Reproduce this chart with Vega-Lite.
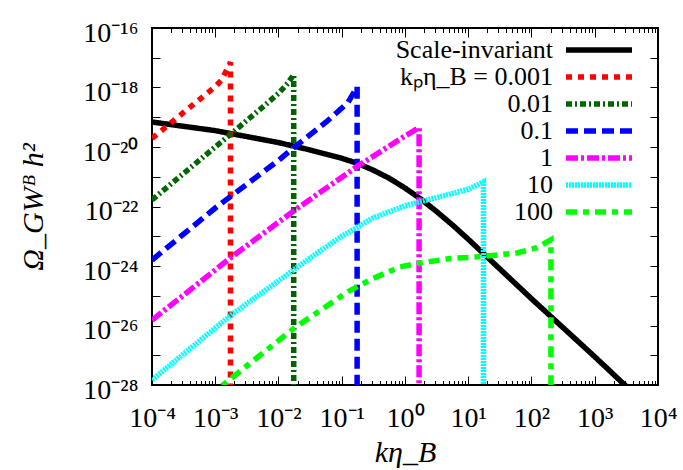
{
  "$schema": "https://vega.github.io/schema/vega-lite/v6.json",
  "width": 506,
  "height": 357,
  "autosize": {"type": "none"},
  "padding": {"left": 152, "top": 28, "right": 25, "bottom": 85},
  "background": "white",
  "config": {
    "view": {"stroke": "#000", "strokeWidth": 2},
    "font": "Liberation Serif",
    "axis": {"domain": false, "grid": false, "tickColor": "#000", "tickWidth": 1, "labelColor": "#000", "titleColor": "#000", "labelFont": "Liberation Serif", "titleFont": "Liberation Serif"}
  },
  "data": {
    "values": [
      {"series": "Scale-invariant", "x": 1e-4, "y": 6.92e-20},
      {"series": "Scale-invariant", "x": 1e-3, "y": 3.55e-20},
      {"series": "Scale-invariant", "x": 1e-2, "y": 1.41e-20},
      {"series": "Scale-invariant", "x": 3.162e-2, "y": 7.94e-21},
      {"series": "Scale-invariant", "x": 0.1, "y": 4.17e-21},
      {"series": "Scale-invariant", "x": 0.1778, "y": 2.82e-21},
      {"series": "Scale-invariant", "x": 0.3162, "y": 1.66e-21},
      {"series": "Scale-invariant", "x": 0.5623, "y": 8.91e-22},
      {"series": "Scale-invariant", "x": 1, "y": 4.17e-22},
      {"series": "Scale-invariant", "x": 1.778, "y": 1.78e-22},
      {"series": "Scale-invariant", "x": 3.162, "y": 6.76e-23},
      {"series": "Scale-invariant", "x": 5.623, "y": 2.40e-23},
      {"series": "Scale-invariant", "x": 10, "y": 7.94e-24},
      {"series": "Scale-invariant", "x": 17.78, "y": 2.51e-24},
      {"series": "Scale-invariant", "x": 31.62, "y": 7.94e-25},
      {"series": "Scale-invariant", "x": 100, "y": 7.94e-26},
      {"series": "Scale-invariant", "x": 1000, "y": 8.91e-28},
      {"series": "Scale-invariant", "x": 3981, "y": 5.62e-29},

      {"series": "kₚη_B = 0.001", "x": 1e-4, "y": 1.95e-20},
      {"series": "kₚη_B = 0.001", "x": 3.16e-4, "y": 1.45e-19},
      {"series": "kₚη_B = 0.001", "x": 1e-3, "y": 1.07e-18},
      {"series": "kₚη_B = 0.001", "x": 1.26e-3, "y": 1.78e-18},
      {"series": "kₚη_B = 0.001", "x": 1.48e-3, "y": 3.55e-18},
      {"series": "kₚη_B = 0.001", "x": 1.74e-3, "y": 7.08e-18},
      {"series": "kₚη_B = 0.001", "x": 1.74e-3, "y": 3e-29},

      {"series": "0.01", "x": 1e-4, "y": 1.66e-22},
      {"series": "0.01", "x": 1e-3, "y": 1.0e-20},
      {"series": "0.01", "x": 1.82e-3, "y": 2.88e-20},
      {"series": "0.01", "x": 5.75e-3, "y": 2.29e-19},
      {"series": "0.01", "x": 1e-2, "y": 6.31e-19},
      {"series": "0.01", "x": 1.41e-2, "y": 1.41e-18},
      {"series": "0.01", "x": 1.74e-2, "y": 2.7e-18},
      {"series": "0.01", "x": 1.74e-2, "y": 3e-29},

      {"series": "0.1", "x": 1e-4, "y": 1.58e-24},
      {"series": "0.1", "x": 1e-3, "y": 8.9e-23},
      {"series": "0.1", "x": 1.78e-3, "y": 2.24e-22},
      {"series": "0.1", "x": 1e-2, "y": 3.55e-21},
      {"series": "0.1", "x": 1.7e-2, "y": 9.12e-21},
      {"series": "0.1", "x": 5.75e-2, "y": 7.08e-20},
      {"series": "0.1", "x": 0.126, "y": 3.16e-19},
      {"series": "0.1", "x": 0.175, "y": 1.07e-18},
      {"series": "0.1", "x": 0.175, "y": 3e-29},

      {"series": "1", "x": 1e-4, "y": 1.51e-26},
      {"series": "1", "x": 1.78e-3, "y": 1.95e-24},
      {"series": "1", "x": 1.76e-2, "y": 7.24e-23},
      {"series": "1", "x": 0.174, "y": 2.19e-21},
      {"series": "1", "x": 1, "y": 2.34e-20},
      {"series": "1", "x": 1.67, "y": 4.47e-20},
      {"series": "1", "x": 1.67, "y": 3e-29},

      {"series": "10", "x": 1e-4, "y": 1.48e-28},
      {"series": "10", "x": 1.778e-3, "y": 2.24e-26},
      {"series": "10", "x": 1e-2, "y": 3.16e-25},
      {"series": "10", "x": 3.162e-2, "y": 1.86e-24},
      {"series": "10", "x": 0.1, "y": 1.0e-23},
      {"series": "10", "x": 0.3162, "y": 4.17e-23},
      {"series": "10", "x": 1, "y": 1.05e-22},
      {"series": "10", "x": 3.162, "y": 2.0e-22},
      {"series": "10", "x": 10, "y": 3.80e-22},
      {"series": "10", "x": 17.4, "y": 6.76e-22},
      {"series": "10", "x": 17.4, "y": 3e-29},

      {"series": "100", "x": 7.94e-4, "y": 4.17e-29},
      {"series": "100", "x": 1.778e-3, "y": 1.66e-28},
      {"series": "100", "x": 1.76e-2, "y": 8.13e-27},
      {"series": "100", "x": 0.126, "y": 1.38e-25},
      {"series": "100", "x": 0.3162, "y": 3.89e-25},
      {"series": "100", "x": 0.832, "y": 9.33e-25},
      {"series": "100", "x": 1.738, "y": 1.26e-24},
      {"series": "100", "x": 5.13, "y": 1.78e-24},
      {"series": "100", "x": 17.0, "y": 2.09e-24},
      {"series": "100", "x": 58.9, "y": 2.75e-24},
      {"series": "100", "x": 123, "y": 4.17e-24},
      {"series": "100", "x": 203, "y": 7.59e-24},
      {"series": "100", "x": 203, "y": 3e-29}
    ]
  },
  "layer": [
    {
      "mark": {"type": "line", "clip": true, "strokeWidth": 5.5, "strokeCap": "butt"},
      "encoding": {
        "x": {"field": "x", "type": "quantitative", "scale": {"type": "log", "domain": [1e-4, 1e4], "nice": false},
          "axis": {"orient": "bottom", "values": [1e-4, 1e-3, 1e-2, 1e-1, 1, 10, 100, 1000, 10000], "tickSize": -9, "labelPadding": 28, "labelFontSize": 28, "labelExpr": "'10' + ['⁻⁴','⁻³','⁻²','⁻¹','⁰','¹','²','³','⁴'][round(log(datum.value)/LN10)+4]", "labelFlush": false, "labelOverlap": false, "title": "kη_B", "titleFontSize": 30, "titleFontStyle": "italic", "titleFontWeight": "normal", "titlePadding": 5}},
        "y": {"field": "y", "type": "quantitative", "scale": {"type": "log", "domain": [1e-28, 1e-16], "nice": false},
          "axis": {"orient": "left", "values": [1e-28, 1e-27, 1e-26, 1e-25, 1e-24, 1e-23, 1e-22, 1e-21, 1e-20, 1e-19, 1e-18, 1e-17, 1e-16], "tickSize": -8, "labelPadding": 22, "labelFontSize": 28, "labelOffset": 5, "labelExpr": "round(log(datum.value)/LN10) % 2 == 0 ? '10' + ['⁻²⁸','⁻²⁷','⁻²⁶','⁻²⁵','⁻²⁴','⁻²³','⁻²²','⁻²¹','⁻²⁰','⁻¹⁹','⁻¹⁸','⁻¹⁷','⁻¹⁶'][round(log(datum.value)/LN10)+28] : ''", "labelFlush": false, "labelOverlap": false, "title": "Ω_GWᴮ h²", "titleFontSize": 30, "titleFontStyle": "italic", "titleFontWeight": "normal", "titlePadding": 34}},
        "color": {"field": "series", "type": "nominal", "title": null,
          "scale": {"domain": ["Scale-invariant", "kₚη_B = 0.001", "0.01", "0.1", "1", "10", "100"], "range": ["#000000", "#ff0000", "#006400", "#0000ff", "#ff00ff", "#00ffff", "#00ff00"]},
          "legend": {"orient": "none", "legendX": 433, "legendY": 8, "padding": 0, "symbolType": "M-3,0H3", "symbolSize": 484, "symbolStrokeWidth": 5.5, "labelAlign": "right", "labelOffset": -60, "labelFontSize": 26, "labelFont": "Liberation Serif", "labelColor": "#000", "rowPadding": -1.5, "labelLimit": 300}},
        "strokeDash": {"field": "series", "type": "nominal", "title": null,
          "scale": {"domain": ["Scale-invariant", "kₚη_B = 0.001", "0.01", "0.1", "1", "10", "100"], "range": [[1, 0], [6, 6], [6, 3, 2, 3], [12, 6], [12, 3, 3, 3], [2, 1], [11, 6, 6, 6]]},
          "legend": {"orient": "none", "legendX": 433, "legendY": 8, "padding": 0, "symbolType": "M-3,0H3", "symbolSize": 484, "symbolStrokeWidth": 5.5, "labelAlign": "right", "labelOffset": -60, "labelFontSize": 26, "labelFont": "Liberation Serif", "labelColor": "#000", "rowPadding": -1.5, "labelLimit": 300}},
        "order": {"value": null}
      }
    },
    {
      "mark": {"type": "point", "opacity": 0},
      "encoding": {
        "x": {"field": "x", "type": "quantitative", "axis": {"orient": "top", "values": [1e-4, 1e-3, 1e-2, 1e-1, 1, 10, 100, 1000, 10000], "tickSize": -9, "labels": false, "title": null}},
        "y": {"field": "y", "type": "quantitative", "axis": {"orient": "right", "values": [1e-28, 1e-27, 1e-26, 1e-25, 1e-24, 1e-23, 1e-22, 1e-21, 1e-20, 1e-19, 1e-18, 1e-17, 1e-16], "tickSize": -8, "labels": false, "title": null}}
      }
    },
    {
      "mark": {"type": "point", "opacity": 0},
      "encoding": {
        "x": {"field": "x", "type": "quantitative", "axis": {"orient": "bottom", "values": [2e-4,3e-4,4e-4,5e-4,6e-4,7e-4,8e-4,9e-4,2e-3,3e-3,4e-3,5e-3,6e-3,7e-3,8e-3,9e-3,2e-2,3e-2,4e-2,5e-2,6e-2,7e-2,8e-2,9e-2,0.2,0.3,0.4,0.5,0.6,0.7,0.8,0.9,2,3,4,5,6,7,8,9,20,30,40,50,60,70,80,90,200,300,400,500,600,700,800,900,2000,3000,4000,5000,6000,7000,8000,9000], "tickSize": -4.5, "labels": false, "title": null}}
      }
    },
    {
      "mark": {"type": "point", "opacity": 0},
      "encoding": {
        "x": {"field": "x", "type": "quantitative", "axis": {"orient": "top", "values": [2e-4,3e-4,4e-4,5e-4,6e-4,7e-4,8e-4,9e-4,2e-3,3e-3,4e-3,5e-3,6e-3,7e-3,8e-3,9e-3,2e-2,3e-2,4e-2,5e-2,6e-2,7e-2,8e-2,9e-2,0.2,0.3,0.4,0.5,0.6,0.7,0.8,0.9,2,3,4,5,6,7,8,9,20,30,40,50,60,70,80,90,200,300,400,500,600,700,800,900,2000,3000,4000,5000,6000,7000,8000,9000], "tickSize": -4.5, "labels": false, "title": null}}
      }
    }
  ],
  "resolve": {"axis": {"x": "independent", "y": "independent"}}
}
